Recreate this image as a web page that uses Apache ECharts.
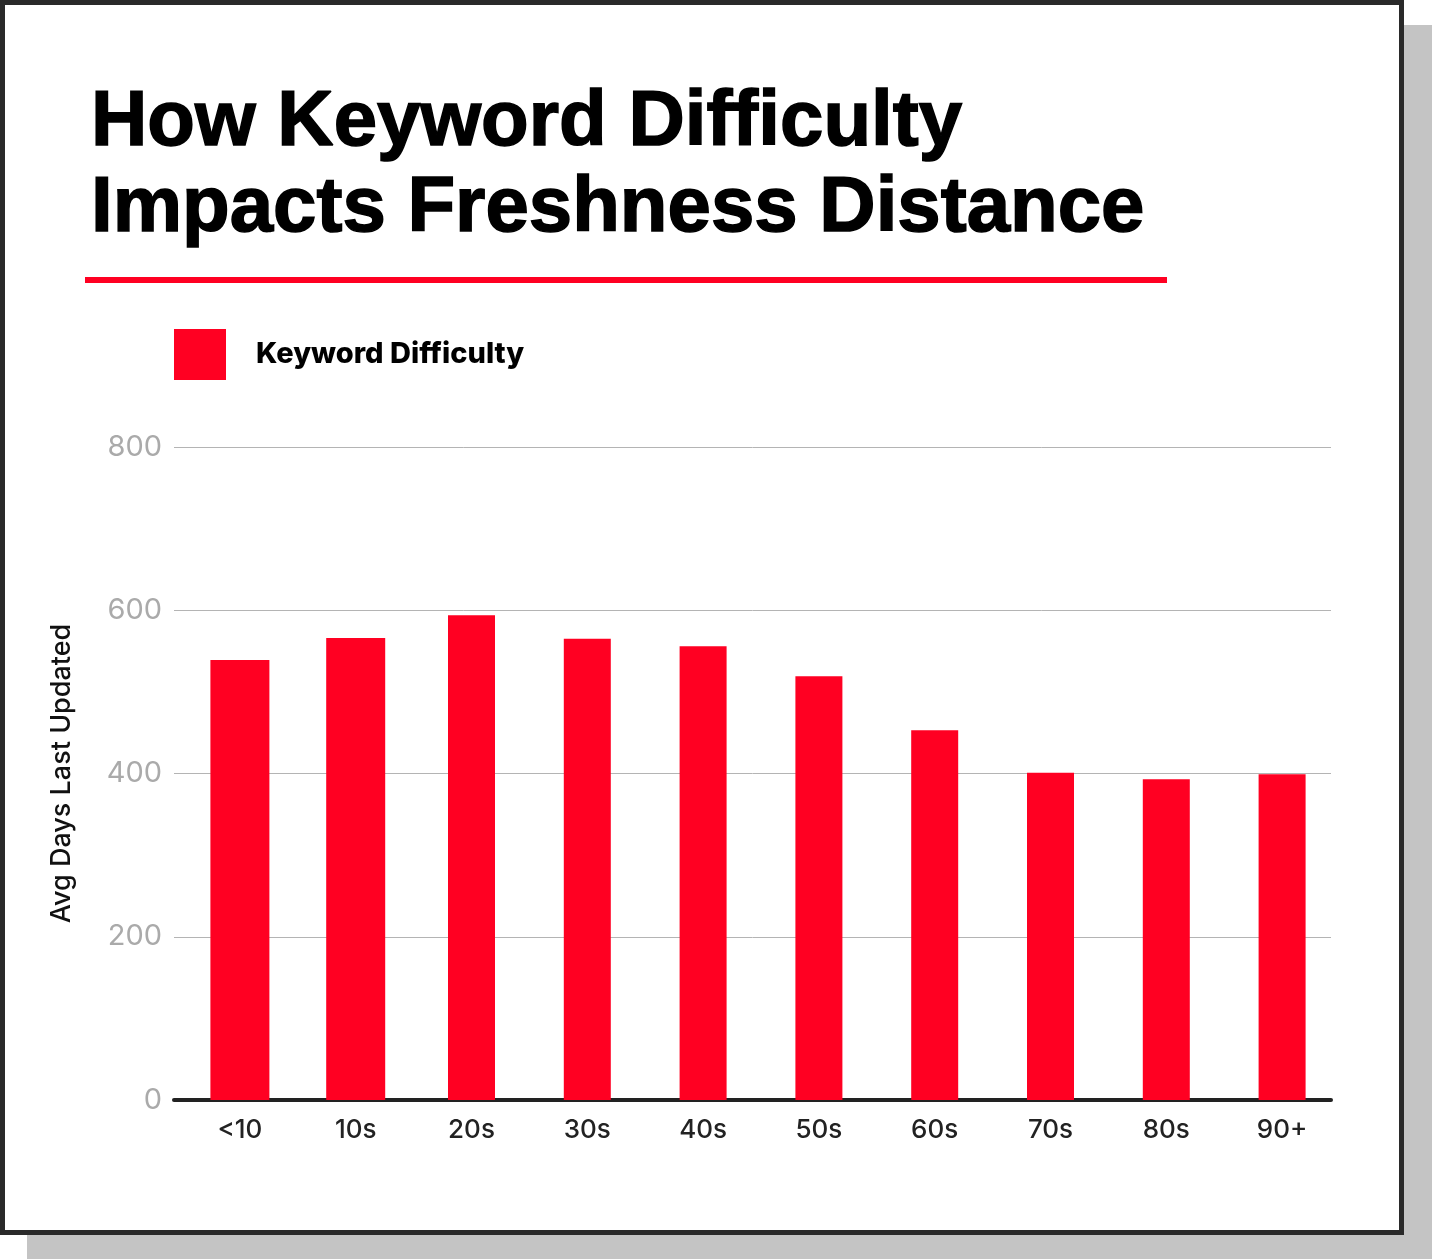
<!DOCTYPE html>
<html>
<head>
<meta charset="utf-8">
<script src="https://cdn.jsdelivr.net/npm/echarts@6/dist/echarts.min.js"></script>
<style>
  html, body { margin: 0; padding: 0; background: #fff; }
  #shadow { position: absolute; left: 27px; top: 25px; width: 1405px; height: 1234px; background: #c4c4c4; }
  #frame { position: absolute; left: 0; top: 0; width: 1404px; height: 1235px; box-sizing: border-box;
           border: 5px solid #2a2a2a; background: #fff; }
  #chart { position: absolute; left: 0; top: 0; width: 1432px; height: 1260px; }
</style>
</head>
<body>
<div id="shadow"></div>
<div id="frame"></div>
<div id="chart"></div>
<script>
// 数据
const categories = ['<10', '10s', '20s', '30s', '40s', '50s', '60s', '70s', '80s', '90+'];
const values = [539, 566, 594, 565, 556, 519, 453, 401, 393, 399];
// 前两根柱子更宽
const wideBars = [0, 1];
const yTicks = { min: 0, max: 800, interval: 200 };

const RED = '#ff0022';
const chart = echarts.init(document.getElementById('chart'), null, { renderer: 'canvas' });

const wideData = values.map((v, i) => wideBars.includes(i) ? v : '-');
const narrowData = values.map((v, i) => wideBars.includes(i) ? '-' : v);

const option = {
    backgroundColor: 'transparent',
    animation: false,
    title: {
        text: 'How Keyword Difficulty\nImpacts Freshness Distance',
        left: 86,
        top: 75,
        textStyle: {
            fontFamily: 'Liberation Sans',
            fontWeight: 'bold',
            fontSize: 78,
            lineHeight: 86,
            color: '#000',
            textBorderColor: '#000',
            textBorderWidth: 1.5
        }
    },
    legend: {
        data: ['Keyword Difficulty'],
        left: 169,
        top: 324,
        icon: 'rect',
        itemWidth: 52,
        itemHeight: 51,
        textStyle: {
            fontFamily: 'Inter',
            fontWeight: 800,
            fontSize: 29,
            color: '#000',
            padding: [4, 0, 0, 25]
        }
    },
    graphic: [{
        type: 'rect',
        shape: { x: 85, y: 277, width: 1082, height: 6 },
        style: { fill: RED }
    }],
    grid: [
        // 柱子
        { left: 182, right: 92, top: 447, bottom: 160 },
        // 坐标轴和网格线
        { left: 174, right: 101, top: 447, bottom: 160 }
    ],
    xAxis: [{
        type: 'category',
        gridIndex: 0,
        data: categories,
        axisLine: { show: false },
        axisTick: { show: false },
        axisLabel: {
            margin: 17,
            fontFamily: 'Inter',
            fontWeight: 500,
            fontSize: 26,
            color: '#222'
        }
    }, {
        type: 'category',
        gridIndex: 0,
        data: categories,
        show: false
    }, {
        type: 'value',
        gridIndex: 1,
        min: 0,
        max: 1,
        axisLine: { show: true, lineStyle: { color: '#222', width: 4 } },
        axisTick: { show: false },
        axisLabel: { show: false },
        splitLine: { show: false }
    }],
    yAxis: [{
        type: 'value',
        gridIndex: 0,
        min: yTicks.min,
        max: yTicks.max,
        interval: yTicks.interval,
        show: false
    }, {
        type: 'value',
        gridIndex: 1,
        min: yTicks.min,
        max: yTicks.max,
        interval: yTicks.interval,
        name: 'Avg Days Last Updated',
        nameLocation: 'middle',
        nameGap: 99,
        nameTextStyle: {
            fontFamily: 'Inter',
            fontWeight: 500,
            fontSize: 27,
            color: '#111'
        },
        axisLine: { show: false },
        axisTick: { show: false },
        axisLabel: {
            margin: 12,
            fontFamily: 'Inter',
            fontSize: 29,
            color: '#aaa'
        },
        splitLine: { lineStyle: { color: '#b4b4b4', width: 1 } }
    }],
    series: [{
        name: 'Keyword Difficulty',
        type: 'bar',
        xAxisIndex: 0,
        yAxisIndex: 0,
        data: wideData,
        barWidth: 59,
        itemStyle: { color: RED }
    }, {
        name: 'Keyword Difficulty',
        type: 'bar',
        xAxisIndex: 1,
        yAxisIndex: 0,
        data: narrowData,
        barWidth: 47,
        itemStyle: { color: RED }
    }]
};

chart.setOption(option);
</script>
</body>
</html>
